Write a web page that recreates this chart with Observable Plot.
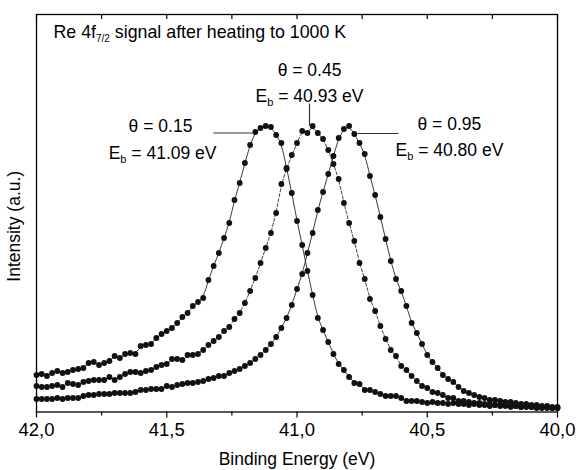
<!DOCTYPE html>
<html><head><meta charset="utf-8">
<script src="https://cdn.jsdelivr.net/npm/d3@7"></script>
<script src="https://cdn.jsdelivr.net/npm/@observablehq/plot@0.6"></script>
<style>body{margin:0;background:#fff;} #chart{width:576px;height:470px;}</style>
</head><body><div id="chart"></div>
<script>
// Binding energy grid (eV)
const energy = [
  42.00,41.98,41.96,41.94,41.92,41.90,41.88,41.86,41.84,41.82,
  41.80,41.78,41.76,41.74,41.72,41.70,41.68,41.66,41.64,41.62,
  41.60,41.58,41.56,41.54,41.52,41.50,41.48,41.46,41.44,41.42,
  41.40,41.38,41.36,41.34,41.32,41.30,41.28,41.26,41.24,41.22,
  41.20,41.18,41.16,41.14,41.12,41.10,41.08,41.06,41.04,41.02,
  41.00,40.98,40.96,40.94,40.92,40.90,40.88,40.86,40.84,40.82,
  40.80,40.78,40.76,40.74,40.72,40.70,40.68,40.66,40.64,40.62,
  40.60,40.58,40.56,40.54,40.52,40.50,40.48,40.46,40.44,40.42,
  40.40,40.38,40.36,40.34,40.32,40.30,40.28,40.26,40.24,40.22,
  40.20,40.18,40.16,40.14,40.12,40.10,40.08,40.06,40.04,40.02,
  40.00];
// Intensity (a.u.), theta = 0.15
const theta015 = [
  37,38,36,39,41,39,40,42,43,44,
  49,50,47,49,51,56,54,58,59,58,
  66,67,68,74,78,81,84,89,95,99,
  106,110,114,132,146,159,174,189,212,229,
  249,267,280,284,286,285,277,269,244,219,
  191,167,141,117,94,82,70,58,48,42,
  35,29,28,22,22,20,18,16,16,16,
  14,11,11,11,10,9,10,9,9,8,
  9,8,8,7,8,7,7,6,7,6,
  6,5,6,5,5,5,4,5,4,4,
  4];
// theta = 0.45
const theta045 = [
  26,25,25,26,27,25,29,28,27,30,
  31,32,32,32,35,32,35,38,40,40,
  39,41,42,45,47,48,53,53,52,57,
  57,58,62,67,71,75,81,85,93,99,
  109,121,134,149,164,179,199,228,243,257,
  269,281,279,286,279,273,262,248,233,209,
  189,171,149,133,113,101,86,73,62,56,
  46,42,36,31,26,24,20,19,17,14,
  14,11,11,10,9,9,8,8,7,7,
  7,6,6,5,6,5,5,4,5,4,
  4];
// theta = 0.95
const theta095 = [
  13,13,13,13,14,13,14,14,14,16,
  17,17,18,18,18,19,19,19,19,20,
  22,22,23,23,23,26,25,27,28,29,
  29,30,31,33,34,36,36,39,41,43,
  46,49,53,57,62,68,75,84,94,107,
  123,138,159,179,202,220,238,256,274,283,
  286,278,269,258,236,217,195,173,151,133,
  121,106,89,79,68,57,50,44,37,33,
  30,25,21,19,17,15,14,12,12,11,
  10,10,9,8,8,7,7,6,6,5,
  5];

const majorTicks = [42, 41.5, 41, 40.5, 40];
const minorTicks = [41.75, 41.25, 40.75, 40.25];
const allTicks = [42, 41.75, 41.5, 41.25, 41, 40.75, 40.5, 40.25, 40];

const titleText = "Re 4f{7/2} signal after heating to 1000 K";
const xLabel = "Binding Energy (eV)";
const yLabel = "Intensity (a.u.)";

// Annotation texts and where they sit (energy, intensity)
const annotText = ["θ = 0.15", "E{b} = 41.09 eV", "θ = 0.45", "E{b} = 40.93 eV", "θ = 0.95", "E{b} = 40.80 eV"];
const annotE = [41.524, 41.516, 40.952, 40.952, 40.415, 40.415];
const annotI = [280.5, 253.5, 336.5, 310, 282.5, 256.5];
// leader lines
const leadE1 = [41.321, 40.952, 40.768];
const leadE2 = [41.171, 40.952, 40.610];
const leadI1 = [279, 308.5, 278.5];
const leadI2 = [279, 286.5, 278.5];

const mk = arr => energy.map((E, i) => ({E, I: arr[i]}));
const sA = mk(theta015), sB = mk(theta045), sC = mk(theta095);
const annots = annotText.map((t, i) => ({t, E: annotE[i], I: annotI[i]}));
const leaders = leadE1.map((e, i) => ({x1: e, x2: leadE2[i], y1: leadI1[i], y2: leadI2[i]}));

const FONT = "Liberation Sans, Arial, Helvetica, sans-serif";
const fmt = d => d.toFixed(1).replace(".", ",");

const plot = Plot.plot({
  width: 576, height: 470,
  marginLeft: 36, marginRight: 19, marginTop: 14, marginBottom: 58.5,
  style: {fontFamily: FONT, fontSize: "17px", color: "black", background: "white"},
  x: {domain: [42, 40], label: null},
  y: {domain: [0, 397.5], axis: null},
  marks: [
    Plot.axisX(majorTicks, {anchor: "bottom", tickSize: 6, tickPadding: 5, tickFormat: fmt, fontSize: 18.5, label: null, strokeWidth: 1.2}),
    Plot.axisX(minorTicks, {anchor: "bottom", tickSize: 4, tickFormat: () => "", label: null, strokeWidth: 1.2}),
    Plot.ruleX(allTicks, {x: d => d, y1: 397.5, y2: 392.5, stroke: "black", strokeWidth: 1.2}),
    Plot.frame({stroke: "black", strokeWidth: 1.3}),
    Plot.line(sA, {x: "E", y: "I", curve: "basis", stroke: "#222", strokeWidth: 0.9}),
    Plot.line(sB, {x: "E", y: "I", curve: "basis", stroke: "#222", strokeWidth: 0.9, strokeDasharray: "3,2"}),
    Plot.line(sC, {x: "E", y: "I", curve: "basis", stroke: "#222", strokeWidth: 0.9}),
    Plot.dot(sA, {x: "E", y: "I", r: 2.9, fill: "#111", stroke: "none"}),
    Plot.dot(sB, {x: "E", y: "I", r: 2.9, fill: "#111", stroke: "none"}),
    Plot.dot(sC, {x: "E", y: "I", r: 2.9, fill: "#111", stroke: "none"}),
    Plot.link(leaders, {x1: "x1", x2: "x2", y1: "y1", y2: "y2", stroke: "#333", strokeWidth: 1.2}),
    Plot.text(annots, {x: "E", y: "I", text: "t", textAnchor: "middle", lineAnchor: "bottom", fontSize: 17.5, fill: "black"}),
    Plot.text([titleText], {text: d => d, frameAnchor: "top-left", dx: 17, dy: 23.7, textAnchor: "start", lineAnchor: "bottom", fontSize: 17.8, fill: "black"}),
    Plot.text([xLabel], {text: d => d, frameAnchor: "bottom", dy: 52.5, textAnchor: "middle", lineAnchor: "bottom", fontSize: 17.5, fill: "black"}),
    Plot.text([yLabel], {text: d => d, frameAnchor: "left", dx: -17, dy: 13, rotate: -90, textAnchor: "middle", lineAnchor: "bottom", fontSize: 17.5, fill: "black"})
  ]
});

// subscripts: text{sub}
d3.select(plot).selectAll("text").each(function() {
  const t = this.textContent;
  const m = t.match(/^(.*?)\{(.+?)\}(.*)$/);
  if (!m) return;
  const el = d3.select(this);
  el.text(null);
  el.append("tspan").text(m[1]);
  el.append("tspan").attr("font-size", m[2].length > 1 ? 10 : 11).attr("dy", 4).text(m[2]);
  el.append("tspan").attr("dy", -4).text(m[3]);
});

document.getElementById("chart").appendChild(plot);
</script>
</body></html>
